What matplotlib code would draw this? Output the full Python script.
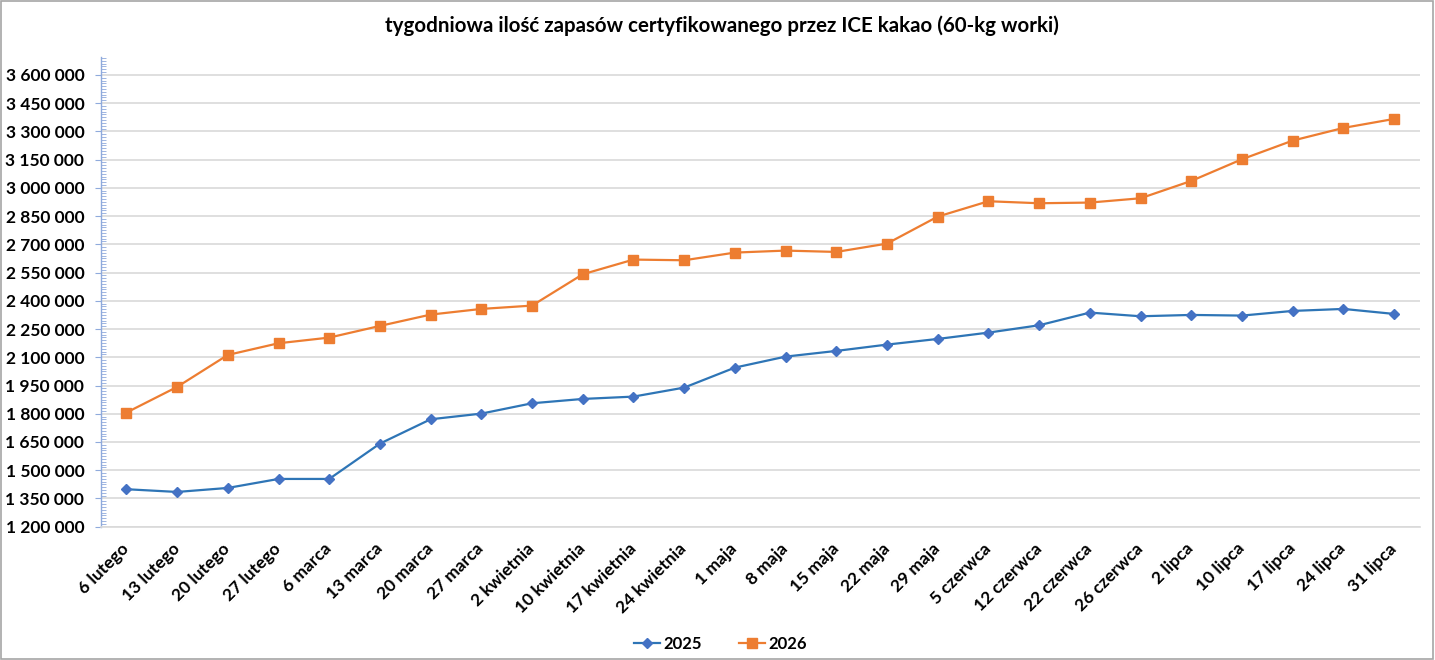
import matplotlib
matplotlib.use("Agg")
from matplotlib import pyplot as plt
from matplotlib.ticker import MultipleLocator, FuncFormatter
from matplotlib.patches import Rectangle

plt.rcParams['font.family'] = ['Lato', 'DejaVu Sans']

weeks = ["6 lutego", "13 lutego", "20 lutego", "27 lutego", "6 marca", "13 marca",
         "20 marca", "27 marca", "2 kwietnia", "10 kwietnia", "17 kwietnia",
         "24 kwietnia", "1 maja", "8 maja", "15 maja", "22 maja", "29 maja",
         "5 czerwca", "12 czerwca", "22 czerwca", "26 czerwca", "2 lipca",
         "10 lipca", "17 lipca", "24 lipca", "31 lipca"]

stocks_2025 = [1399000, 1384500, 1405800, 1453600, 1453600, 1641300, 1770600,
               1800700, 1855600, 1878600, 1891000, 1938900, 2045100, 2103500,
               2133700, 2167300, 2197400, 2231000, 2270000, 2337300, 2317800,
               2324900, 2321400, 2346200, 2356800, 2330200]

stocks_2026 = [1806000, 1942400, 2112400, 2174400, 2204500, 2266500, 2326700,
               2356800, 2374500, 2541000, 2618900, 2615300, 2656100, 2666700,
               2659600, 2703900, 2847300, 2928800, 2918200, 2921800, 2944700,
               3036800, 3152000, 3251100, 3318400, 3366200]

fig = plt.figure(figsize=(14.35, 6.6), dpi=100)
ax = fig.add_axes([0.0704, 0.202, 0.9188, 0.7116])

x = list(range(len(weeks)))
ax.plot(x, stocks_2025, '-D', color='#2E75B6', markerfacecolor='#4472C4',
        markeredgecolor='#4472C4', markersize=5.5, linewidth=1.6, label="2025")
ax.plot(x, stocks_2026, '-s', color='#ED7D31', markerfacecolor='#ED7D31',
        markeredgecolor='#ED7D31', markersize=6.5, linewidth=1.6, label="2026")

ax.set_xlim(-0.5, len(weeks) - 0.5)
ax.set_ylim(1200000, 3695000)
ax.yaxis.set_major_locator(MultipleLocator(150000))
ax.yaxis.set_minor_locator(MultipleLocator(15000))
ax.yaxis.set_major_formatter(FuncFormatter(lambda v, _: f"{int(v):,}".replace(",", " ")))
ax.set_yticks([v for v in range(1200000, 3600001, 150000)])

ax.grid(axis='y', color='#D9D9D9', linewidth=1.2)
ax.set_axisbelow(True)
for s in ['top', 'right']:
    ax.spines[s].set_visible(False)
ax.spines['bottom'].set_color('#D9D9D9')
ax.spines['bottom'].set_linewidth(1.2)
ax.spines['left'].set_color('#8FAADC')
ax.spines['left'].set_linewidth(1.0)

ax.tick_params(axis='y', which='major', direction='out', length=4, color='#8FAADC',
               labelsize=12.5, pad=8)
ax.tick_params(axis='y', which='minor', direction='in', length=3.5, color='#8FAADC')
for lbl in ax.get_yticklabels():
    lbl.set_fontweight('bold')

ax.set_xticks(x)
ax.set_xticklabels(weeks, rotation=45, ha='right', va='center',
                   rotation_mode='anchor', fontsize=12.5, fontweight='bold')
ax.tick_params(axis='x', length=0, pad=14)

fig.suptitle("tygodniowa ilość zapasów certyfikowanego przez ICE kakao (60-kg worki)",
             x=0.503, y=0.976, fontsize=14.8, fontweight='bold')

leg = fig.legend(loc='center', bbox_to_anchor=(0.502, 0.024), ncol=2, frameon=False,
                 prop={'size': 12, 'weight': 'bold'}, handlelength=1.6,
                 columnspacing=2.2, handletextpad=0.2)

fig.add_artist(Rectangle((0.0008, 0.0015), 0.9975, 0.997, transform=fig.transFigure,
                         fill=False, edgecolor='#A6A6A6', linewidth=1.2))

plt.savefig("out.png", dpi=100)
plt.close()
